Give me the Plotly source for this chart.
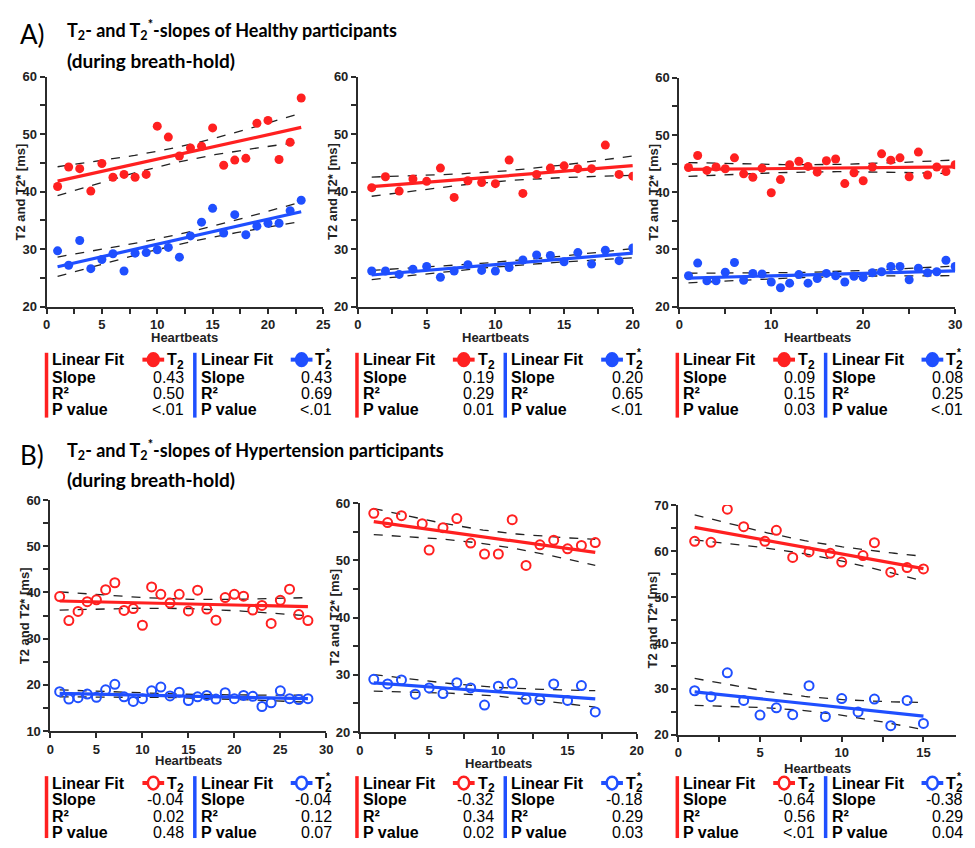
import numpy as np
import plotly.graph_objects as go

# ---------------- data ----------------
A1_x = list(range(1, 24))
A1_t2 = [40.9, 44.3, 44.0, 40.1, 44.9, 42.5, 43.0, 42.5, 43.0, 51.4, 49.5, 46.2, 47.6, 47.9, 51.1,
         44.6, 45.5, 45.8, 51.9, 52.4, 45.6, 48.6, 56.3]
A1_t2s = [29.7, 27.2, 31.5, 26.6, 28.2, 29.2, 26.2, 29.3, 29.4, 29.9, 30.3, 28.6, 32.3, 34.7, 37.1,
          32.8, 36.0, 32.5, 34.0, 34.5, 34.5, 36.7, 38.5]

A2_x = list(range(1, 21))
A2_t2 = [40.7, 42.6, 40.1, 42.2, 41.8, 44.1, 39.0, 41.9, 41.6, 41.4, 45.5, 39.7, 43.0, 44.1, 44.5,
         44.0, 44.0, 48.1, 43.0, 42.7]
A2_t2s = [26.2, 26.2, 25.6, 26.5, 27.0, 25.1, 26.2, 27.3, 26.3, 26.2, 26.8, 28.1, 29.0, 28.9, 27.8,
          29.4, 27.4, 29.8, 28.0, 30.2]

A3_x = list(range(1, 31))
A3_t2 = [44.3, 46.4, 43.8, 44.4, 44.1, 46.0, 43.2, 42.6, 44.2, 39.9, 42.2, 44.8, 45.4, 44.5, 43.5,
         45.5, 45.8, 41.5, 43.4, 42.0, 44.4, 46.7, 45.6, 46.0, 42.7, 47.0, 43.0, 44.4, 43.6, 44.8]
A3_t2s = [25.4, 27.6, 24.5, 24.5, 26.0, 27.7, 24.6, 25.8, 25.7, 24.3, 23.3, 24.1, 25.6, 24.1, 24.9,
          25.8, 25.4, 24.3, 25.3, 25.1, 25.9, 26.1, 27.0, 27.0, 24.7, 26.7, 25.9, 26.1, 28.1, 27.0]

B1_x = list(range(1, 29))
B1_t2 = [39.1, 33.9, 35.9, 38.0, 38.4, 40.6, 42.1, 36.1, 36.5, 32.9, 41.2, 39.6, 37.7, 39.6, 36.0,
         40.5, 36.4, 34.0, 38.9, 39.6, 39.2, 36.2, 37.2, 33.3, 38.3, 40.7, 35.2, 33.9]
B1_t2s = [18.5, 16.9, 17.2, 18.0, 17.3, 18.9, 20.1, 17.4, 16.4, 17.0, 18.7, 19.5, 17.6, 18.4, 16.6,
          17.4, 17.7, 16.9, 18.3, 17.0, 17.7, 17.5, 15.3, 16.1, 18.7, 17.0, 16.8, 17.0]

B2_x_t2 = [1, 2, 3, 4.5, 5, 6, 7, 8, 9, 10, 11, 12, 13, 14, 15, 16, 17]
B2_t2 = [58.2, 56.6, 57.8, 56.4, 51.8, 55.7, 57.3, 53.0, 51.1, 51.1, 57.1, 49.1, 52.7, 53.5, 52.0,
         52.6, 53.1]
B2_x_t2s = list(range(1, 18))
B2_t2s = [29.2, 28.4, 29.1, 26.6, 27.7, 26.7, 28.6, 27.7, 24.7, 28.0, 28.5, 25.7, 25.6, 28.4, 25.5,
          28.1, 23.5]

B3_x_t2 = [1, 2, 3, 4, 5.3, 6, 7, 8, 9.3, 10, 11.3, 12, 13, 14, 15]
B3_t2 = [62.1, 61.9, 69.1, 65.3, 62.1, 64.5, 58.6, 59.8, 59.5, 57.6, 59.0, 61.8, 55.4, 56.4, 56.1]
B3_x_t2s = list(range(1, 16))
B3_t2s = [29.6, 28.3, 33.5, 27.5, 24.3, 25.9, 24.4, 30.7, 24.0, 27.9, 25.0, 27.8, 22.0, 27.5, 22.5]

# table values (slope, R2, P) for T2 and T2*
A1_stats = (["0.43", "0.50", "<.01"], ["0.43", "0.69", "<.01"])
A2_stats = (["0.19", "0.29", "0.01"], ["0.20", "0.65", "<.01"])
A3_stats = (["0.09", "0.15", "0.03"], ["0.08", "0.25", "<.01"])
B1_stats = (["-0.04", "0.02", "0.48"], ["-0.04", "0.12", "0.07"])
B2_stats = (["-0.32", "0.34", "0.02"], ["-0.18", "0.29", "0.03"])
B3_stats = (["-0.64", "0.56", "<.01"], ["-0.38", "0.29", "0.04"])

row_labels = ["Linear Fit", "Slope", "R²", "P value"]

# ---------------- styling / layout ----------------
W, H = 975, 848
RED = "#ff2020"
BLUE = "#1f4fff"
AXC = "#2b2b2b"
ARIAL = "Arial, Liberation Sans, sans-serif"
TITLEF = "Lato, Open Sans, sans-serif"

T975 = {13: 2.160, 14: 2.145, 15: 2.131, 16: 2.120, 17: 2.110, 18: 2.101, 19: 2.093, 20: 2.086,
        21: 2.080, 22: 2.074, 23: 2.069, 24: 2.064, 25: 2.060, 26: 2.056, 27: 2.052, 28: 2.048}


def fx(p):
    return p / W


def fy(p):
    return 1 - p / H


panels = [
    dict(x1=A1_x, y1=A1_t2, x2=A1_x, y2=A1_t2s, stats=A1_stats, filled=True, box=(43, 323, 71, 305),
         xr=(0, 25), xt=(0, 25, 2.5, 5), yr=(20, 60), ytk=(20, 60, 5, 10), tx=43, group="A", hb=31),
    dict(x1=A2_x, y1=A2_t2, x2=A2_x, y2=A2_t2s, stats=A2_stats, filled=True, box=(358, 636, 71, 305),
         xr=(0, 20), xt=(0, 20, 2.5, 5), yr=(20, 60), ytk=(20, 60, 5, 10), tx=357, group="A", hb=31),
    dict(x1=A3_x, y1=A3_t2, x2=A3_x, y2=A3_t2s, stats=A3_stats, filled=True, box=(683, 962, 72, 305),
         xr=(0, 30), xt=(0, 30, 5, 10), yr=(20, 60), ytk=(20, 60, 5, 10), tx=681, group="A", hb=31),
    dict(x1=B1_x, y1=B1_t2, x2=B1_x, y2=B1_t2s, stats=B1_stats, filled=False, box=(47, 326, 502, 737),
         xr=(0, 30), xt=(0, 30, 5, 5), yr=(10, 60), ytk=(10, 60, 5, 10), tx=43, group="B", hb=30),
    dict(x1=B2_x_t2, y1=B2_t2, x2=B2_x_t2s, y2=B2_t2s, stats=B2_stats, filled=False,
         box=(360, 640, 505, 738), xr=(0, 20), xt=(0, 20, 2.5, 5), yr=(20, 60), ytk=(20, 60, 5, 10),
         tx=357, group="B", hb=32),
    dict(x1=B3_x_t2, y1=B3_t2, x2=B3_x_t2s, y2=B3_t2s, stats=B3_stats, filled=False,
         box=(682, 963, 507, 741), xr=(0, 17), xt=(0, 15, 2.5, 5), yr=(20, 70), ytk=(20, 70, 5, 10),
         tx=681, group="B", hb=34),
]

fig = go.Figure()
layout = dict(width=W, height=H, margin=dict(l=0, r=0, t=0, b=0), plot_bgcolor="white",
              paper_bgcolor="white", showlegend=False)
annotations = []
shapes = []


def fit_and_ci(x, y):
    x = np.asarray(x, float)
    y = np.asarray(y, float)
    n = len(x)
    b, a = np.polyfit(x, y, 1)
    res = y - (a + b * x)
    s = np.sqrt(np.sum(res ** 2) / (n - 2))
    xm = x.mean()
    sxx = np.sum((x - xm) ** 2)
    g = np.linspace(x.min(), x.max(), 80)
    yh = a + b * g
    half = T975.get(n - 2, 2.05) * s * np.sqrt(1.0 / n + (g - xm) ** 2 / sxx)
    return g, yh, yh - half, yh + half


def ticks(lo, hi, step, lab):
    vals = np.arange(lo, hi + 1e-9, step)
    txt = ["<b>%d</b>" % v if abs(v / lab - round(v / lab)) < 1e-9 else "" for v in vals]
    return list(vals), txt


for i, p in enumerate(panels, start=1):
    xa, ya = "x%d" % i, "y%d" % i
    l, r, t, b = p["box"]
    for xs, ys, col in ((p["x1"], p["y1"], RED), (p["x2"], p["y2"], BLUE)):
        g, yh, lo, hi = fit_and_ci(xs, ys)
        for band in (lo, hi):
            fig.add_trace(go.Scatter(x=g, y=band, mode="lines", xaxis=xa, yaxis=ya,
                                     line=dict(color="#222", width=1.3, dash="dash"), hoverinfo="skip"))
        fig.add_trace(go.Scatter(x=g, y=yh, mode="lines", xaxis=xa, yaxis=ya,
                                 line=dict(color=col, width=3.2), hoverinfo="skip"))
        if p["filled"]:
            mk = dict(symbol="circle", size=9, color=col, line=dict(width=0))
        else:
            mk = dict(symbol="circle-open", size=9, color=col, line=dict(width=2, color=col))
        fig.add_trace(go.Scatter(x=xs, y=ys, mode="markers", xaxis=xa, yaxis=ya, marker=mk))

    xtv, xtt = ticks(*p["xt"])
    ytv, ytt = ticks(*p["ytk"])
    axbase = dict(showgrid=False, zeroline=False, showline=True, linecolor=AXC, linewidth=2,
                  ticks="outside", ticklen=5, tickwidth=1.6, tickcolor=AXC, tickmode="array",
                  tickfont=dict(family=ARIAL, size=13, color="#222"))
    layout["xaxis%d" % i] = dict(axbase, domain=[fx(l), fx(r)], range=list(p["xr"]), anchor=ya,
                                 tickvals=xtv, ticktext=xtt)
    layout["yaxis%d" % i] = dict(axbase, domain=[fy(b), fy(t)], range=list(p["yr"]), anchor=xa,
                                 tickvals=ytv, ticktext=ytt)

    # axis titles
    annotations.append(dict(x=fx(l - 26), y=fy((t + b) / 2), xref="paper", yref="paper",
                            text="<b>T2 and T2* [ms]</b>", textangle=-90, showarrow=False,
                            font=dict(family=ARIAL, size=13, color="#222"),
                            xanchor="center", yanchor="middle"))
    annotations.append(dict(x=fx((l + r) / 2), y=fy(b + p["hb"]), xref="paper", yref="paper",
                            text="<b>Heartbeats</b>", showarrow=False,
                            font=dict(family=ARIAL, size=13, color="#222"),
                            xanchor="center", yanchor="middle"))

    # stats table
    tx = p["tx"]
    if p["group"] == "A":
        rows = [359, 377, 393, 410]
        bar = (352, 418)
    else:
        rows = [790, 807, 824, 840]
        bar = (783, 846)
    for k, (col, star, vals) in enumerate(((RED, False, p["stats"][0]),
                                           (BLUE, True, p["stats"][1]))):
        ox = tx + 150 * k
        shapes.append(dict(type="line", xref="paper", yref="paper", x0=fx(ox), x1=fx(ox),
                           y0=fy(bar[0]), y1=fy(bar[1]), line=dict(color=col, width=3.5)))
        for j, lab in enumerate(row_labels):
            annotations.append(dict(x=fx(ox + 4), y=fy(rows[j]), xref="paper", yref="paper",
                                    text="<b>%s</b>" % lab, showarrow=False, xanchor="left",
                                    yanchor="middle", font=dict(family=ARIAL, size=16, color="black")))
        for j, v in enumerate(vals):
            annotations.append(dict(x=fx(ox + 141), y=fy(rows[j + 1]), xref="paper", yref="paper",
                                    text=v, showarrow=False, xanchor="right", yanchor="middle",
                                    font=dict(family=ARIAL, size=16, color="black")))
        cx = ox + 108
        cy = rows[0]
        shapes.append(dict(type="line", xref="paper", yref="paper", x0=fx(cx - 11), x1=fx(cx + 11),
                           y0=fy(cy), y1=fy(cy), line=dict(color=col, width=4)))
        shapes.append(dict(type="circle", xref="paper", yref="paper", x0=fx(cx - 5.5), x1=fx(cx + 5.5),
                           y0=fy(cy + 6.5), y1=fy(cy - 6.5),
                           fillcolor=col if p["filled"] else "white",
                           line=dict(color=col, width=2.5)))
        # "T" with subscript 2 (and superscript * for T2*) as separate compact texts
        annotations.append(dict(x=fx(cx + 12), y=fy(cy), xref="paper", yref="paper",
                                text="<b>T</b>", showarrow=False, xanchor="left",
                                yanchor="middle", font=dict(family=ARIAL, size=16, color="black")))
        annotations.append(dict(x=fx(cx + 22), y=fy(cy + 5), xref="paper", yref="paper",
                                text="<b>2</b>", showarrow=False, xanchor="left",
                                yanchor="middle", font=dict(family=ARIAL, size=12, color="black")))
        if star:
            annotations.append(dict(x=fx(cx + 23), y=fy(cy - 7), xref="paper", yref="paper",
                                    text="<b>*</b>", showarrow=False, xanchor="left",
                                    yanchor="middle", font=dict(family=ARIAL, size=10, color="black")))

# headings
for lab, ty, sub_y, word, ly in (("A)", 23, 54, "Healthy", 27), ("B)", 451, 481, "Hypertension", 456)):
    annotations.append(dict(x=fx(14), y=fy(ly), xref="paper", yref="paper", text=lab,
                            showarrow=False, xanchor="left", yanchor="middle",
                            font=dict(family=TITLEF, size=26, color="black")))
    annotations.append(dict(x=fx(62), y=fy(ty), xref="paper", yref="paper",
                            text="<b>T<sub>2</sub>- and T<sub>2</sub><sup>*</sup>-slopes of %s participants</b>" % word,
                            showarrow=False, xanchor="left", yanchor="middle",
                            font=dict(family=TITLEF, size=18, color="black")))
    annotations.append(dict(x=fx(62), y=fy(sub_y), xref="paper", yref="paper",
                            text="<b>(during breath-hold)</b>", showarrow=False, xanchor="left",
                            yanchor="middle", font=dict(family=TITLEF, size=19, color="black")))

layout["annotations"] = annotations
layout["shapes"] = shapes
fig.update_layout(**layout)
fig.write_html("out.html", post_script="document.body.style.margin='0';",
               config={"displayModeBar": False})
